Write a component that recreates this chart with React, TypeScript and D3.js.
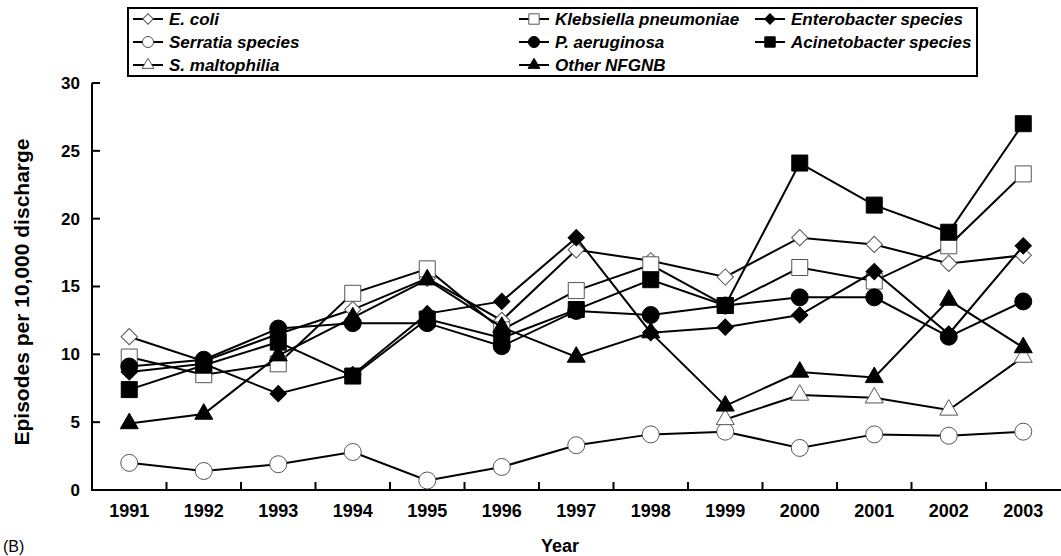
import React, { useEffect, useRef } from 'react';
import * as d3 from 'd3';

const years = ['1991', '1992', '1993', '1994', '1995', '1996', '1997', '1998', '1999', '2000', '2001', '2002', '2003'];

const eColi = [11.3, 9.5, 11.5, 13.3, 15.6, 12.5, 17.7, 16.9, 15.7, 18.6, 18.1, 16.7, 17.3];
const klebsiella = [9.8, 8.5, 9.3, 14.5, 16.3, 11.8, 14.7, 16.6, 13.6, 16.4, 15.4, 18.0, 23.3];
const enterobacter = [8.7, 9.3, 7.1, 8.5, 13.0, 13.9, 18.6, 11.6, 12.0, 12.9, 16.1, 11.5, 18.0];
const serratia = [2.0, 1.4, 1.9, 2.8, 0.7, 1.7, 3.3, 4.1, 4.3, 3.1, 4.1, 4.0, 4.3];
const pAeruginosa = [9.1, 9.6, 11.9, 12.3, 12.3, 10.6, 13.2, 12.9, 13.6, 14.2, 14.2, 11.3, 13.9];
const acinetobacter = [7.4, 9.2, 10.9, 8.4, 12.6, 11.2, 13.3, 15.5, 13.6, 24.1, 21.0, 19.0, 27.0];
const sMaltophilia = [null, null, null, null, null, null, null, null, 5.2, 7.0, 6.8, 5.9, 9.8];
const otherNfgnb = [4.9, 5.6, 9.9, 12.7, 15.5, 12.0, 9.8, 11.6, 6.2, 8.7, 8.3, 14.0, 10.5];

const yTicks = [0, 5, 10, 15, 20, 25, 30];

type Marker = 'diamond' | 'square' | 'circle' | 'triangle';

const series: { name: string; values: (number | null)[]; marker: Marker; filled: boolean }[] = [
  { name: 'E. coli', values: eColi, marker: 'diamond', filled: false },
  { name: 'Klebsiella pneumoniae', values: klebsiella, marker: 'square', filled: false },
  { name: 'Enterobacter species', values: enterobacter, marker: 'diamond', filled: true },
  { name: 'Serratia species', values: serratia, marker: 'circle', filled: false },
  { name: 'P. aeruginosa', values: pAeruginosa, marker: 'circle', filled: true },
  { name: 'Acinetobacter species', values: acinetobacter, marker: 'square', filled: true },
  { name: 'S. maltophilia', values: sMaltophilia, marker: 'triangle', filled: false },
  { name: 'Other NFGNB', values: otherNfgnb, marker: 'triangle', filled: true },
];

const FONT = '"Liberation Sans", Arial, sans-serif';

// marker path, k = scale (1 = plot size)
const markerPath = (m: Marker, k: number) => {
  if (m === 'square') return d3.symbol(d3.symbolSquare, 256 * k * k)()!;
  if (m === 'circle') return d3.symbol(d3.symbolCircle, 227 * k * k)()!;
  if (m === 'triangle') return d3.symbol(d3.symbolTriangle, 140 * k * k)()!;
  return d3.symbol(d3.symbolSquare, 132 * k * k)()!;
};

const App = () => {
  const svgRef = useRef<SVGSVGElement | null>(null);

  useEffect(() => {
    document.body.style.margin = '0';
    const svg = d3.select(svgRef.current);
    svg.selectAll('*').remove();

    const x = d3.scaleBand().domain(years).range([92, 92 + 13 * 74.5]);
    const y = d3.scaleLinear().domain([0, 30]).range([490, 83]);
    const cx = (yr: string) => (x(yr) as number) + x.bandwidth() / 2;

    // axes
    const ax = svg.append('g').attr('stroke', '#000').attr('stroke-width', 2);
    ax.append('line').attr('x1', 92).attr('x2', 92).attr('y1', y(30)).attr('y2', y(0) + 1);
    ax.append('line').attr('x1', 91).attr('x2', 1061).attr('y1', y(0)).attr('y2', y(0));
    yTicks.forEach(t => {
      ax.append('line').attr('x1', 92).attr('x2', 100).attr('y1', y(t)).attr('y2', y(t));
    });
    years.slice(1).forEach(yr => {
      const xx = x(yr) as number;
      ax.append('line').attr('x1', xx).attr('x2', xx).attr('y1', y(0)).attr('y2', y(0) - 8);
    });

    svg.append('g').selectAll('text').data(yTicks).join('text')
      .attr('x', 80).attr('y', d => y(d)).attr('dy', '0.35em')
      .attr('text-anchor', 'end').attr('font-family', FONT).attr('font-weight', 'bold')
      .attr('font-size', 17).text(d => d);

    svg.append('g').selectAll('text').data(years).join('text')
      .attr('x', d => cx(d)).attr('y', 517)
      .attr('text-anchor', 'middle').attr('font-family', FONT).attr('font-weight', 'bold')
      .attr('font-size', 18).text(d => d);

    svg.append('text').attr('x', 560).attr('y', 552).attr('text-anchor', 'middle')
      .attr('font-family', FONT).attr('font-weight', 'bold').attr('font-size', 18).text('Year');
    svg.append('text').attr('x', 3).attr('y', 552)
      .attr('font-family', FONT).attr('font-size', 16).text('(B)');
    svg.append('text').attr('transform', 'translate(29,292) rotate(-90)').attr('text-anchor', 'middle')
      .attr('font-family', FONT).attr('font-weight', 'bold').attr('font-size', 21)
      .text('Episodes per 10,000 discharge');

    const line = d3.line<number | null>()
      .defined(d => d !== null)
      .x((_, i) => cx(years[i]))
      .y(d => y(d as number));

    series.forEach(s => {
      const g = svg.append('g');
      g.append('path').datum(s.values).attr('fill', 'none').attr('stroke', '#000')
        .attr('stroke-width', 2).attr('d', line);
      g.selectAll('path.m').data(s.values.map((v, i) => ({ v, yr: years[i] })).filter(d => d.v !== null))
        .join('path').attr('class', 'm')
        .attr('d', markerPath(s.marker, 1))
        .attr('transform', d => `translate(${cx(d.yr)},${y(d.v as number)})${s.marker === 'diamond' ? ' rotate(45)' : ''}`)
        .attr('fill', s.filled ? '#000' : '#fff')
        .attr('stroke', s.filled ? '#000' : '#555')
        .attr('stroke-width', 1);
    });

    // legend
    const lg = svg.append('g');
    lg.append('rect').attr('x', 128).attr('y', 8).attr('width', 849).attr('height', 68)
      .attr('fill', '#fff').attr('stroke', '#000').attr('stroke-width', 2);
    const colX = [133, 519, 755];
    const rowY = [19, 42, 65];
    series.forEach((s, i) => {
      const lx = colX[i % 3];
      const ly = rowY[Math.floor(i / 3)];
      lg.append('line').attr('x1', lx).attr('x2', lx + 30).attr('y1', ly).attr('y2', ly)
        .attr('stroke', '#000').attr('stroke-width', 2);
      lg.append('path').attr('d', markerPath(s.marker, 0.65))
        .attr('transform', `translate(${lx + 15},${ly})${s.marker === 'diamond' ? ' rotate(45)' : ''}`)
        .attr('fill', s.filled ? '#000' : '#fff')
        .attr('stroke', s.filled ? '#000' : '#555').attr('stroke-width', 1);
      lg.append('text').attr('x', lx + 36).attr('y', ly).attr('dy', '0.35em')
        .attr('font-family', FONT).attr('font-weight', 'bold').attr('font-style', 'italic')
        .attr('font-size', 17).text(s.name);
    });
  }, []);

  return <svg ref={svgRef} width={1061} height={556} style={{ display: 'block' }}></svg>;
};

export default App;
